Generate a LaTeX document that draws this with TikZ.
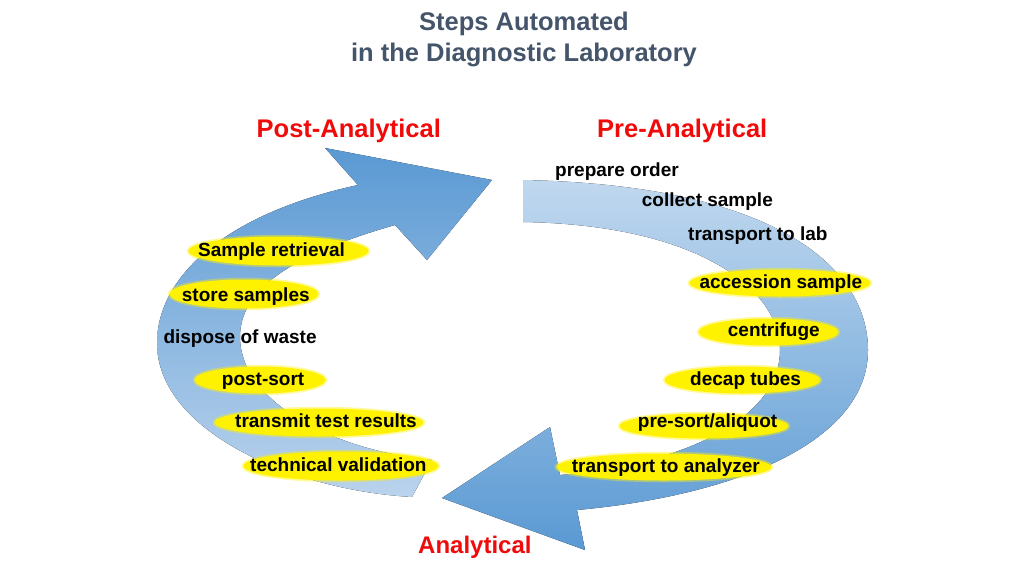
\documentclass[tikz,border=0pt]{standalone}
\usepackage{fontspec}
\setmainfont{Liberation Sans}
\usetikzlibrary{shapes.geometric}
\definecolor{titlec}{RGB}{68,84,106}
\definecolor{hdr}{RGB}{240,10,10}
\definecolor{bdark}{RGB}{90,153,211}
\definecolor{bmidL}{RGB}{104,162,217}
\definecolor{blightL}{RGB}{186,211,237}
\definecolor{blightR}{RGB}{192,216,239}
\definecolor{bmidR}{RGB}{160,196,231}
\begin{document}
\begin{tikzpicture}[x=1pt,y=-1pt,
  ttl/.style={text=titlec, font=\bfseries\fontsize{25.5}{30}\selectfont, anchor=base, inner sep=0pt},
  hdrs/.style={text=hdr, font=\bfseries\fontsize{25.5}{30}\selectfont, anchor=base west, inner sep=0pt},
  lbl/.style={text=black, font=\bfseries\fontsize{19}{22}\selectfont, anchor=base west, inner sep=0pt},
  hl/.style 2 args={ellipse, fill=yellow, draw=yellow, draw opacity=0.4, line width=3.5pt, inner sep=0pt, minimum width=#1, minimum height=#2},
  leftarrow/.style={top color=bdark, middle color=bmidL, bottom color=blightL},
  rightarrow/.style={top color=blightR, middle color=bmidR, bottom color=bdark},
]
\useasboundingbox (0,0) rectangle (1024,576);
\fill[white] (0,0) rectangle (1024,576);

% title
\node[ttl] (t1) at (524,30) {Steps Automated};
\node[ttl] (t2) at (524,61) {in the Diagnostic Laboratory};

% headers
\node[hdrs] (post) at (256.5,137) {Post-Analytical};
\node[hdrs] (pre) at (597,137) {Pre-Analytical};
\node[hdrs, font=\bfseries\fontsize{24}{28}\selectfont] (ana) at (418,553.5) {Analytical};

% left arrow (post-analytical)
\fill[leftarrow] (492,180) -- (325,148) -- (358,185)
  .. controls (220,215) and (157,280) .. (157,343)
  .. controls (157,430) and (290,490) .. (412,497)
  -- (432,460)
  .. controls (330,450) and (240,400) .. (240,337)
  .. controls (240,290) and (290,255) .. (395,225)
  -- (427,260) -- cycle;

% right arrow (pre-analytical)
\fill[rightarrow] (523,180)
  .. controls (780,185) and (868,270) .. (868,350)
  .. controls (868,440) and (740,495) .. (577,510)
  -- (585,550) -- (442,498) -- (550,427) -- (560,475)
  .. controls (680,465) and (780,420) .. (780,350)
  .. controls (780,290) and (700,225) .. (523,222) -- cycle;

% highlights
\node[hl={180}{29}] (esr) at (278.5,251) {};
\node[hl={149}{29}] (ess) at (244,294) {};
\node[hl={131}{27}] (eps) at (260,380) {};
\node[hl={209}{28}] (ett) at (319,422.5) {};
\node[hl={195}{29}] (etv) at (341,466) {};
\node[hl={181}{27}] (eas) at (780,283) {};
\node[hl={140}{27}] (ecf) at (768.5,332) {};
\node[hl={156}{27}] (edt) at (742.5,380) {};
\node[hl={169}{25}] (epa) at (704,426) {};
\node[hl={215}{27}] (eta) at (664,467) {};

% post-analytical steps
\node[lbl] (sr) at (198,256.7) {Sample retrieval};
\node[lbl] (ss) at (181.7,301.7) {store samples};
\node[lbl] (dw) at (163.3,343.3) {dispose of waste};
\node[lbl] (ps) at (221.7,385) {post-sort};
\node[lbl] (tt) at (235,427.7) {transmit test results};
\node[lbl] (tv) at (250,471.7) {technical validation};

% pre-analytical steps
\node[lbl] (po) at (555,176.7) {prepare order};
\node[lbl] (cs) at (641.7,206.7) {collect sample};
\node[lbl] (tl) at (688,240) {transport to lab};
\node[lbl] (as) at (699.3,288.3) {accession sample};
\node[lbl] (cf) at (727.7,336.7) {centrifuge};
\node[lbl] (dt) at (690,385) {decap tubes};
\node[lbl] (pa) at (637.7,427.7) {pre-sort/aliquot};
\node[lbl] (ta) at (571.7,472.3) {transport to analyzer};
\end{tikzpicture}
\end{document}
